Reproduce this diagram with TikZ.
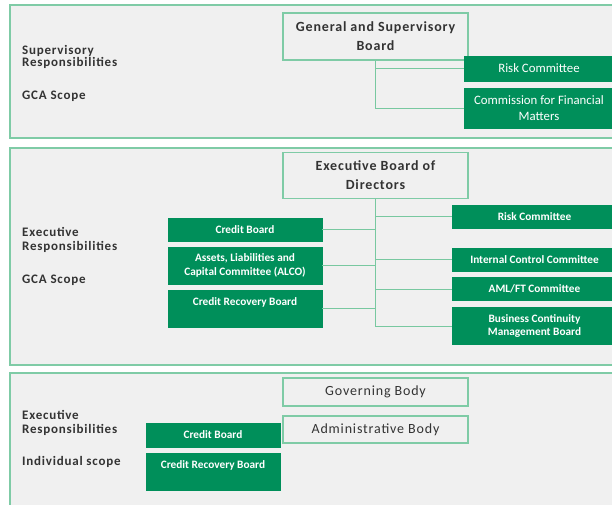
\documentclass[tikz,border=0pt]{standalone}
\usepackage{fontspec}
\setmainfont{Carlito}
\newfontfamily\widefont[LetterSpace=6]{Carlito}
\usepackage{tikz}
\usetikzlibrary{positioning}

\definecolor{panelgray}{HTML}{F0F0F0}
\definecolor{panelline}{HTML}{7FCBA6}
\definecolor{boxgreen}{HTML}{008F5A}
\definecolor{wireline}{HTML}{78C8A0}
\definecolor{labelgray}{HTML}{333333}

\begin{document}
\begin{tikzpicture}[
    x=1pt, y=-1pt,
    panel/.style={draw=panelline, line width=1.5pt, fill=panelgray},
    headbox/.style={draw=panelline, line width=1.2pt, fill=panelgray, minimum width=185pt, inner sep=0pt, align=center, text=labelgray, font=\widefont\bfseries\fontsize{14}{19}\selectfont},
    bodybox/.style={draw=panelline, line width=1.2pt, fill=panelgray, minimum width=185pt, inner sep=0pt, align=center, text=labelgray, font=\widefont\fontsize{14}{16}\selectfont},
    gbox/.style={draw=boxgreen, fill=boxgreen, inner sep=0pt, align=center, text=white, font=\bfseries\fontsize{11.3}{13.6}\selectfont},
    gboxplain/.style={gbox, font=\fontsize{12.8}{15.4}\selectfont},
    sidetext/.style={anchor=west, inner sep=0pt, align=left, text=labelgray},
    wire/.style={draw=wireline, line width=1pt}
]
\useasboundingbox (0,0) rectangle (612,504);

% Panel 1: supervisory
\draw[panel] (10,5) rectangle (620,138);
\node[sidetext, font=\widefont\bfseries\fontsize{13}{11.5}\selectfont] (sup_a) at (22,57) {Supervisory\\Responsibilities};
\node[sidetext, font=\widefont\bfseries\fontsize{13}{11.5}\selectfont] (scope_a) at (22,96) {GCA Scope};

\node[headbox, minimum height=47pt] (gsb) at (375.5,36.5) {General and Supervisory\\Board};
\node[gboxplain, minimum width=150pt, minimum height=25pt] (risk_a) at (539,68.5) {Risk Committee};
\node[gboxplain, minimum width=150pt, minimum height=40pt] (cfm) at (539,108) {Commission for Financial\\Matters};

\draw[wire] (gsb.south) |- (risk_a.west);
\draw[wire] (gsb.south) |- (cfm.west);

% Panel 2: executive, GCA
\draw[panel] (10,148) rectangle (620,365);
\node[sidetext, font=\widefont\bfseries\fontsize{13}{14}\selectfont] (exec_b) at (22,240) {Executive\\Responsibilities};
\node[sidetext, font=\widefont\bfseries\fontsize{13}{14}\selectfont] (scope_b) at (22,280) {GCA Scope};

\node[headbox, minimum height=46pt] (ebd) at (375.5,175.5) {Executive Board of\\Directors};

% left committees
\node[gbox, minimum width=154pt, minimum height=23pt] (cb_b) at (245,229.5) {Credit Board};
\node[gbox, minimum width=154pt, minimum height=37pt] (alco) at (245,265.5) {Assets, Liabilities and\\Capital Committee (ALCO)};
\node[gbox, minimum width=154pt, minimum height=37pt] (crb_b) at (245,308.5) {Credit Recovery Board\\\mbox{}};

% right committees
\node[gbox, minimum width=165pt, minimum height=23pt] (risk_b) at (534.5,216.5) {Risk Committee};
\node[gbox, minimum width=165pt, minimum height=23pt] (icc) at (534.5,259.5) {Internal Control Committee};
\node[gbox, minimum width=165pt, minimum height=23pt] (aml) at (534.5,289) {AML/FT Committee};
\node[gbox, minimum width=165pt, minimum height=37pt] (bcm) at (534.5,326) {Business Continuity\\Management Board};

\draw[wire] (ebd.south) |- (bcm.west);
\draw[wire] (ebd.south |- risk_b.west) -- (risk_b.west);
\draw[wire] (ebd.south |- icc.west) -- (icc.west);
\draw[wire] (ebd.south |- aml.west) -- (aml.west);
\draw[wire] (cb_b.east) -- (cb_b.east -| ebd.south);
\draw[wire] (alco.east) -- (alco.east -| ebd.south);
\draw[wire] (crb_b.east) -- (crb_b.east -| ebd.south);

% Panel 3: executive, individual
\draw[panel] (10,373) rectangle (620,520);
\node[sidetext, font=\widefont\bfseries\fontsize{13}{14}\selectfont] (exec_c) at (22,423) {Executive\\Responsibilities};
\node[sidetext, font=\widefont\bfseries\fontsize{13}{14}\selectfont] (scope_c) at (22,462) {Individual scope};

\node[bodybox, minimum height=28pt] (gov) at (375.5,392) {Governing Body};
\node[bodybox, minimum height=27pt] (adm) at (375.5,429.5) {Administrative Body};

\node[gbox, minimum width=134pt, minimum height=24pt] (cb_c) at (213,435) {Credit Board};
\node[gbox, minimum width=134pt, minimum height=37pt] (crb_c) at (213,471.5) {Credit Recovery Board\\\mbox{}};

\end{tikzpicture}
\end{document}
